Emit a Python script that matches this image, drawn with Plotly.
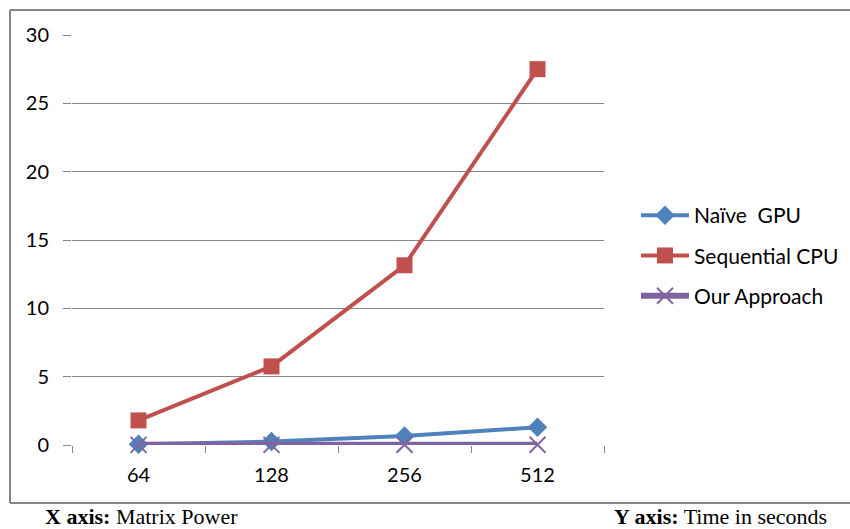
import plotly.graph_objects as go

# Matrix power (categories) and timings in seconds
matrix_power = ["64", "128", "256", "512"]
naive_gpu = [0.05, 0.25, 0.65, 1.3]
sequential_cpu = [1.8, 5.75, 13.15, 27.5]
our_approach = [0.01, 0.01, 0.02, 0.02]

y_ticks = [0, 5, 10, 15, 20, 25, 30]

W, H = 850, 529
PL, PR, PT, PB = 72, 604, 35, 445  # plot area in pixels

fig = go.Figure()
fig.add_trace(go.Scatter(
    x=matrix_power, y=naive_gpu, name="Naïve  GPU", mode="lines+markers",
    legendgroup="gpu", cliponaxis=False,
    line=dict(color="#4F81BD", width=4),
    marker=dict(symbol="diamond", size=15, color="#4F81BD"),
))
fig.add_trace(go.Scatter(
    x=matrix_power, y=sequential_cpu, name="Sequential CPU", mode="lines+markers",
    legendgroup="cpu", cliponaxis=False,
    line=dict(color="#C0504D", width=4),
    marker=dict(symbol="square", size=16, color="#C0504D"),
))
fig.add_trace(go.Scatter(
    x=matrix_power, y=our_approach, name="Our Approach", mode="lines+markers",
    legendgroup="ours", cliponaxis=False,
    line=dict(color="#8064A2", width=6),
    marker=dict(symbol="x-thin", size=16, color="#8064A2",
                line=dict(color="#8064A2", width=2)),
))


def px_x(p):
    return (p - PL) / (PR - PL)


def px_y(p):
    return (PB - p) / (PB - PT)


border = dict(color="#868686", width=2)
shapes = [
    dict(type="line", xref="paper", yref="paper", x0=px_x(10), x1=px_x(850),
         y0=px_y(10), y1=px_y(10), line=border),
    dict(type="line", xref="paper", yref="paper", x0=px_x(10), x1=px_x(10),
         y0=px_y(10), y1=px_y(503), line=border),
    dict(type="line", xref="paper", yref="paper", x0=px_x(10), x1=px_x(850),
         y0=px_y(503), y1=px_y(503), line=border),
]

caption_font = dict(family="Liberation Serif", size=22, color="black")
annotations = [
    dict(xref="paper", yref="paper", x=px_x(43), y=px_y(516), xanchor="left",
         yanchor="middle", showarrow=False,
         text="<b>X axis:</b> Matrix Power", font=caption_font),
    dict(xref="paper", yref="paper", x=px_x(829), y=px_y(516), xanchor="right",
         yanchor="middle", showarrow=False,
         text="<b>Y axis:</b> Time in seconds", font=caption_font),
]

fig.update_layout(
    width=W, height=H,
    margin=dict(l=PL, r=W - PR, t=PT, b=H - PB, autoexpand=False),
    paper_bgcolor="white", plot_bgcolor="white",
    font=dict(family="Lato", size=20, color="black"),
    showlegend=True,
    legend=dict(x=px_x(636), y=px_y(195), xanchor="left", yanchor="top",
                font=dict(family="Lato", size=21, color="black"),
                itemwidth=48, tracegroupgap=10, bgcolor="rgba(0,0,0,0)"),
    shapes=shapes,
    annotations=annotations,
)
fig.update_xaxes(
    type="category", range=[-0.5, 3.5], showgrid=False, showline=False,
    zeroline=False, ticks="outside", ticklen=7, tickcolor="#868686",
    tickson="boundaries", ticklabelstandoff=16,
)
fig.update_yaxes(
    range=[0, 30], tickvals=y_ticks, showgrid=True, gridcolor="#868686",
    gridwidth=1, zeroline=False, showline=False, ticks="outside", ticklen=8,
    tickcolor="#868686", ticklabelstandoff=10,
)

fig.write_html("out.html")
